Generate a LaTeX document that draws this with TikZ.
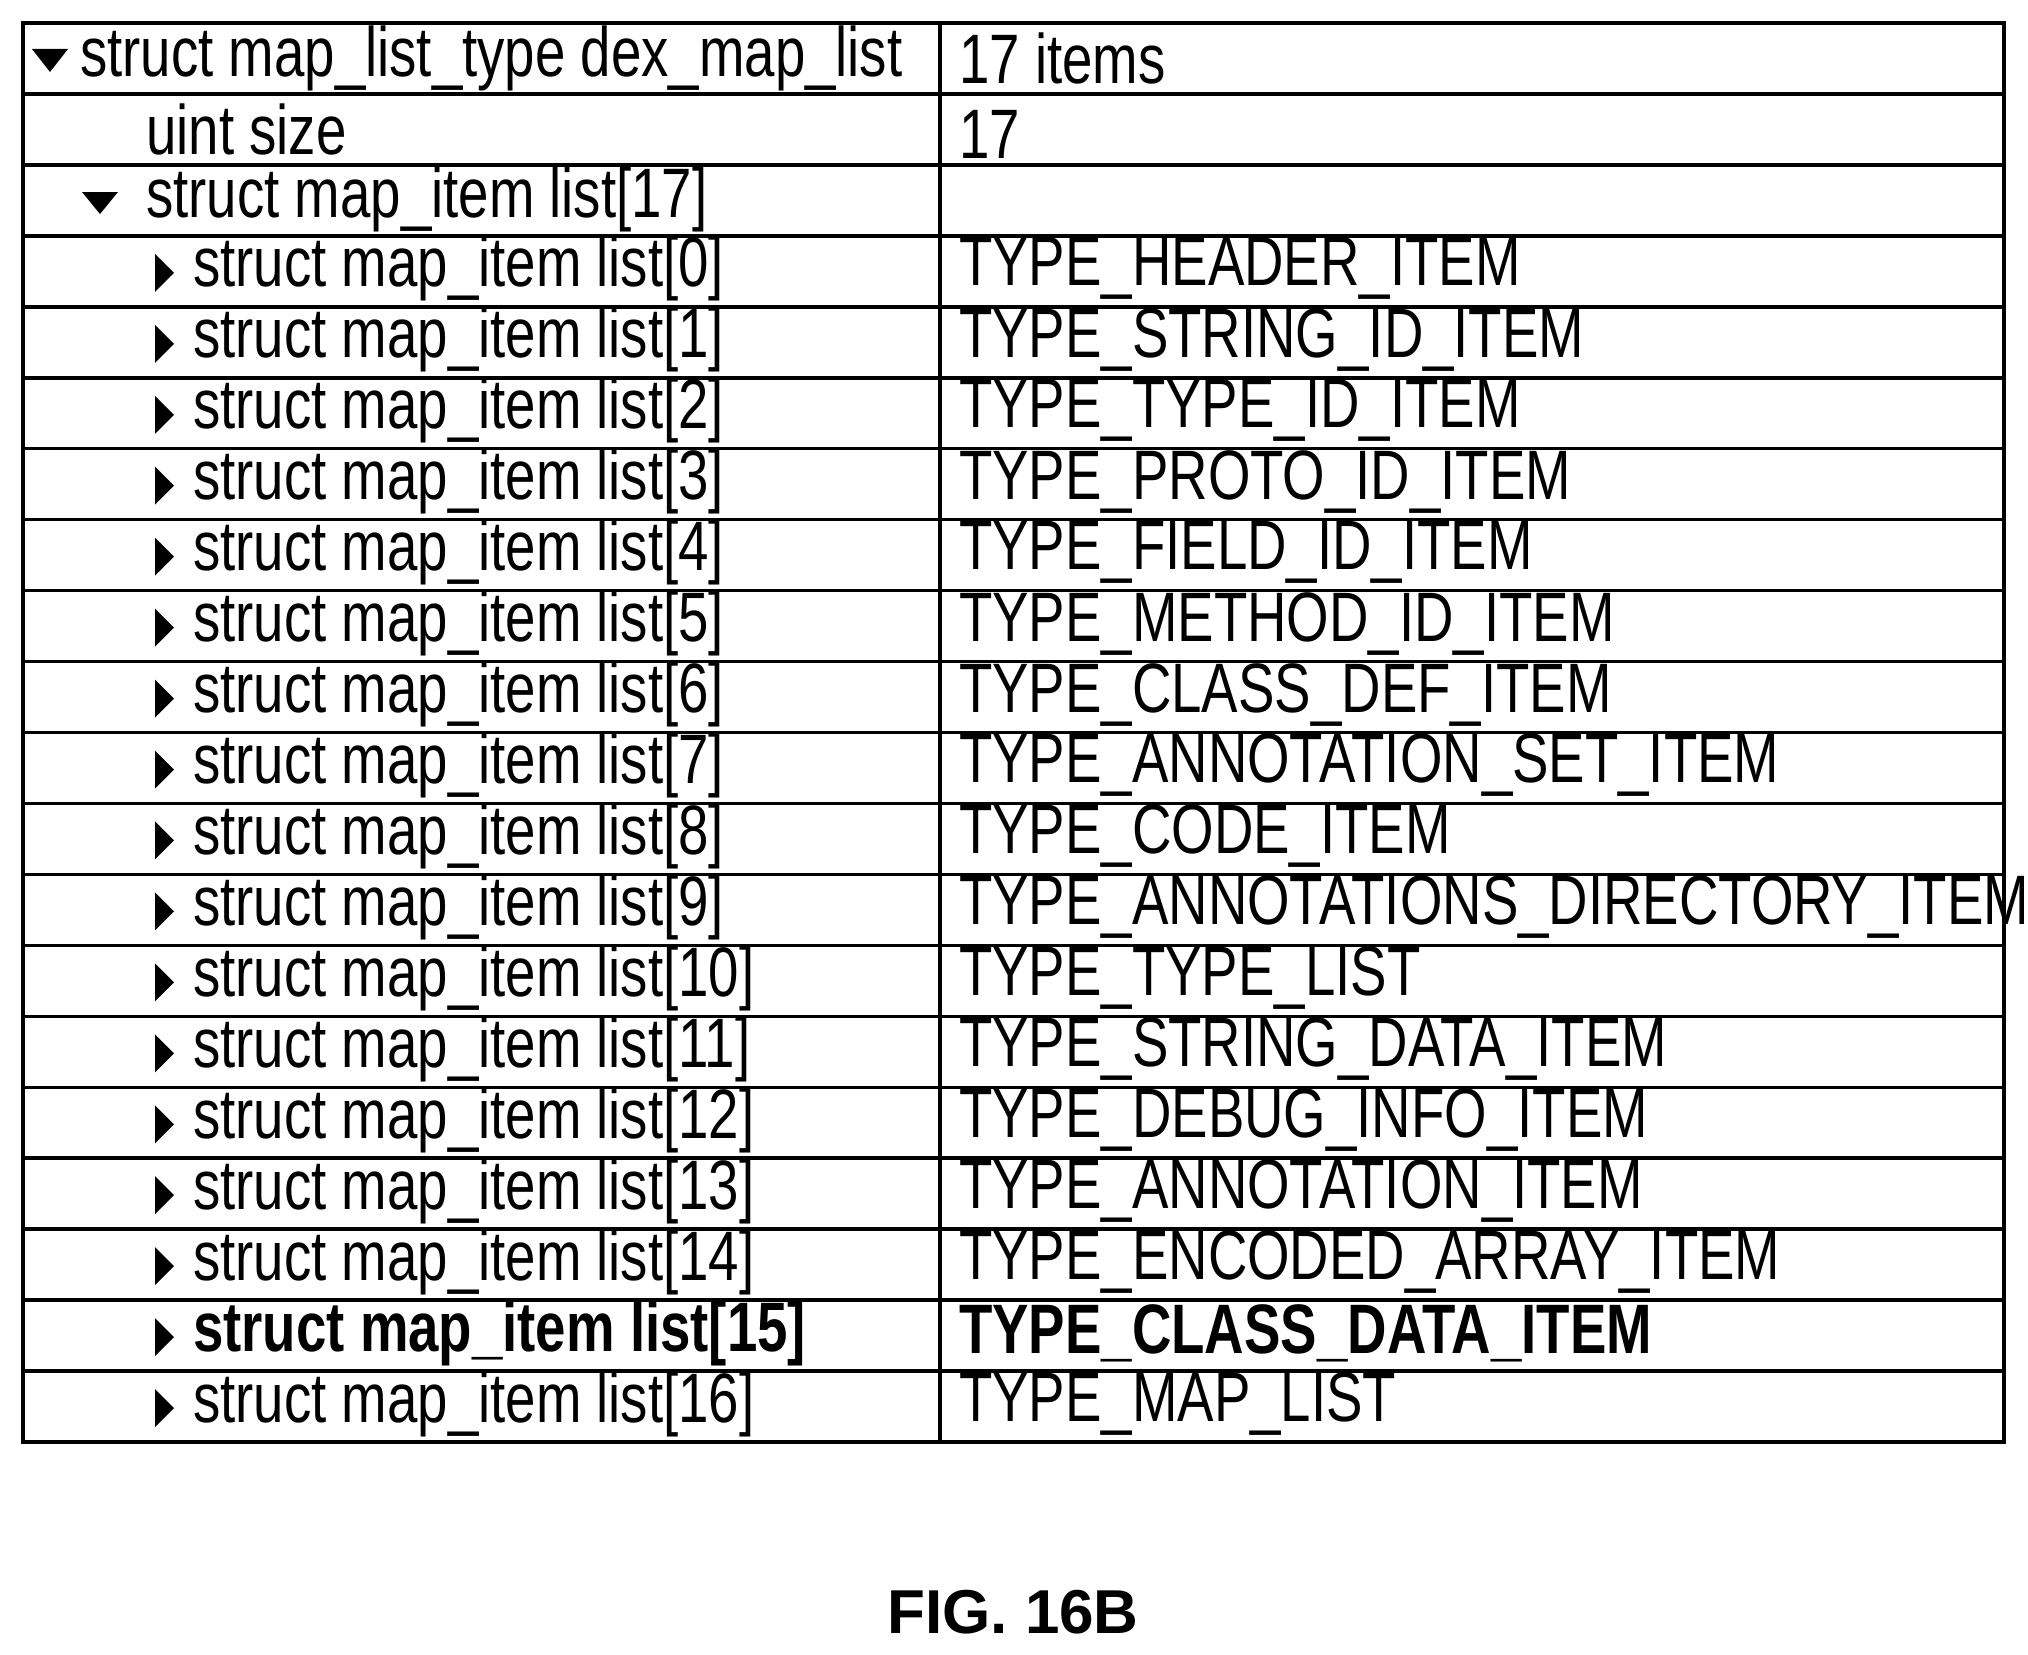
\documentclass[tikz,border=0pt]{standalone}
\usepackage{fontspec}
\setmainfont{Liberation Sans}
\newfontfamily\narrowf[FakeStretch=0.78]{Liberation Sans}
\begin{document}
\begin{tikzpicture}[x=1pt,y=-1pt,
  lt/.style={anchor=west,font=\narrowf\fontsize{70}{70}\selectfont,inner sep=0},
  tri/.style={fill=black}]
\useasboundingbox (0,0) rectangle (2028,1654);
\def\rh{70.95}
\foreach \i in {1,...,19} \draw[line width=3.5pt] (23,23+\i*\rh) -- (2004,23+\i*\rh);
\draw[line width=3.5pt] (940,23) -- (940,1442);
\draw[line width=4.5pt] (23,23) rectangle (2004,1442);
% row 0
\fill (32,49) -- (68,49) -- (50,72) -- cycle;
\node[lt] (r0) at (80,58) {struct map\_list\_type dex\_map\_list};
\node[lt] (v0) at (959,58) {17 items};
\node[lt] (r1) at (146,129) {uint size};
\node[lt] (v1) at (959,134) {17};
\fill (82,192) -- (118,192) -- (100,214) -- cycle;
\node[lt] (r2) at (146,199) {struct map\_item list[17]};
\foreach \n/\t [count=\k from 3] in {0/TYPE\_HEADER\_ITEM,1/TYPE\_STRING\_ID\_ITEM,2/TYPE\_TYPE\_ID\_ITEM,3/TYPE\_PROTO\_ID\_ITEM,4/TYPE\_FIELD\_ID\_ITEM,5/TYPE\_METHOD\_ID\_ITEM,6/TYPE\_CLASS\_DEF\_ITEM,7/TYPE\_ANNOTATION\_SET\_ITEM,8/TYPE\_CODE\_ITEM,9/TYPE\_ANNOTATIONS\_DIRECTORY\_ITEM,10/TYPE\_TYPE\_LIST,11/TYPE\_STRING\_DATA\_ITEM,12/TYPE\_DEBUG\_INFO\_ITEM,13/TYPE\_ANNOTATION\_ITEM,14/TYPE\_ENCODED\_ARRAY\_ITEM} {
  \pgfmathsetmacro\yy{23+\k*\rh+37}
  \fill (155,\yy-19) -- (174,\yy) -- (155,\yy+19) -- cycle;
  \node[lt] (r\k) at (193,\yy-4) {struct map\_item list[\n]};
  \node[lt] (v\k) at (959,\yy-4) {\t};
}
\pgfmathsetmacro\yy{23+18*\rh+37}
\fill (155,\yy-19) -- (174,\yy) -- (155,\yy+19) -- cycle;
\node[lt,font=\narrowf\bfseries\fontsize{70}{70}\selectfont] (r18) at (193,\yy-4) {struct map\_item list[15]};
\node[lt,font=\narrowf\bfseries\fontsize{70}{70}\selectfont] (v18) at (959,\yy-4) {TYPE\_CLASS\_DATA\_ITEM};
\pgfmathsetmacro\yy{23+19*\rh+37}
\fill (155,\yy-19) -- (174,\yy) -- (155,\yy+19) -- cycle;
\node[lt] (r19) at (193,\yy-4) {struct map\_item list[16]};
\node[lt] (v19) at (959,\yy-4) {TYPE\_MAP\_LIST};
\node[font=\bfseries\fontsize{62}{62}\selectfont,inner sep=0] (cap) at (1013,1612) {FIG. 16B};
\end{tikzpicture}
\end{document}
